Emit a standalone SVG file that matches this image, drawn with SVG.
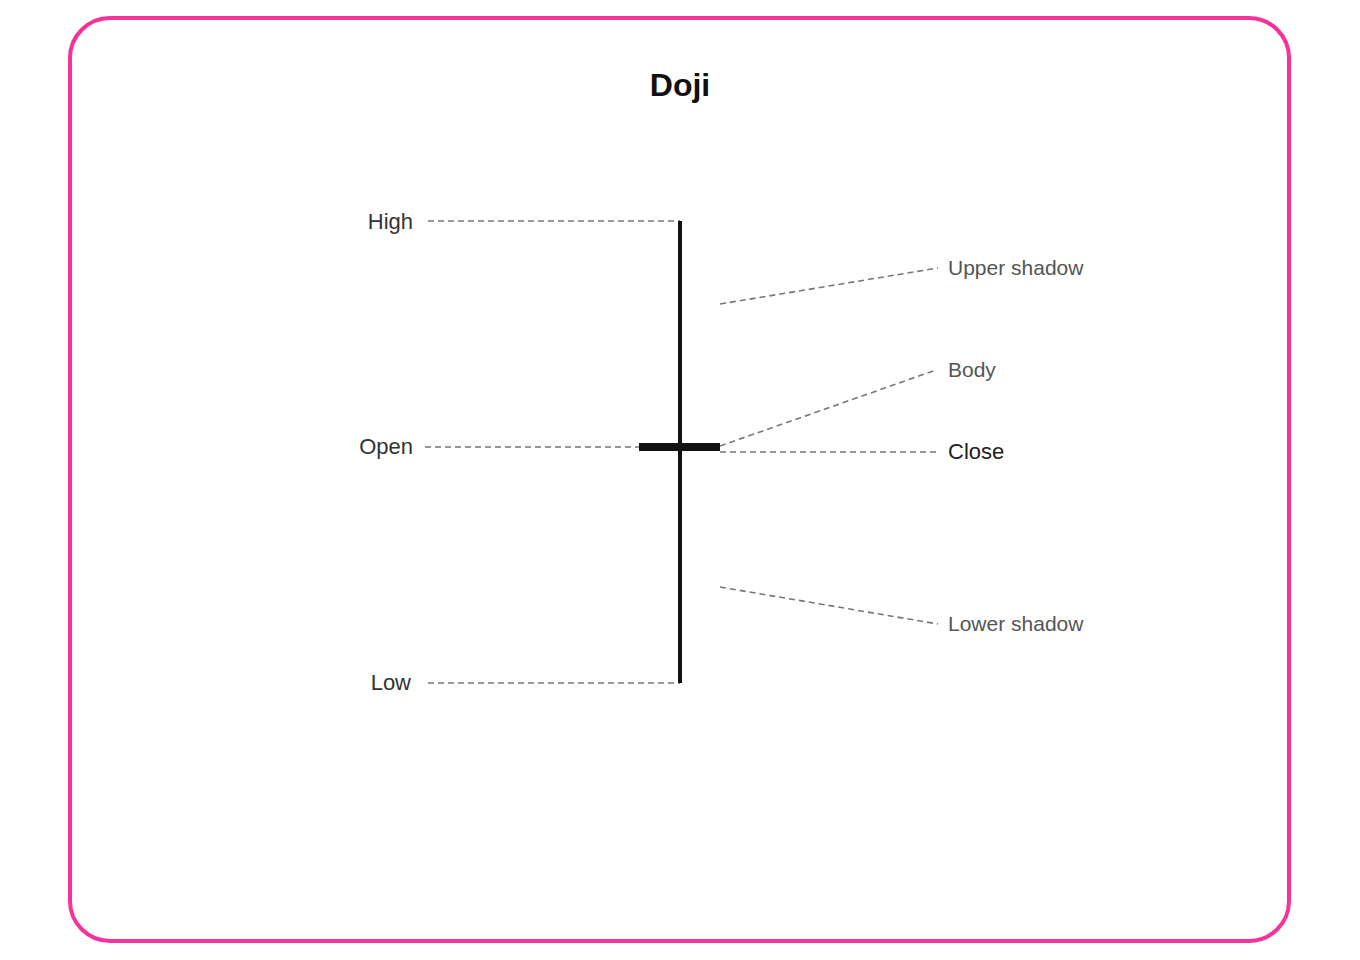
<svg xmlns="http://www.w3.org/2000/svg" width="1360" height="960" viewBox="0 0 1360 960">
<style>
.lbl{font-family:"Liberation Sans",Arial,sans-serif;font-size:22px;fill:#333}
.ann{font-family:"Liberation Sans",Arial,sans-serif;font-size:21px;fill:#555}
.d{stroke:#777;stroke-width:1.6;stroke-dasharray:6 4;fill:none}
</style>
<rect x="0" y="0" width="1360" height="960" fill="#fff"/>
<rect x="70" y="18" width="1219" height="923" rx="40" fill="#fff" stroke="#f5339a" stroke-width="4"/>
<text x="680" y="96" text-anchor="middle" font-family="Liberation Sans,Arial,sans-serif" font-size="32" font-weight="bold" fill="#111">Doji</text>
<g id="connectors">
<line class="d" x1="428" y1="221" x2="680" y2="221"/>
<line class="d" x1="425" y1="447" x2="640" y2="447"/>
<line class="d" x1="428" y1="683" x2="680" y2="683"/>
<line class="d" x1="720" y1="304" x2="938" y2="268"/>
<line class="d" x1="720" y1="446" x2="936" y2="370"/>
<line class="d" x1="720" y1="452" x2="936" y2="452"/>
<line class="d" x1="720" y1="587" x2="938" y2="624"/>
</g>
<g id="candle">
<line x1="680" y1="221" x2="680" y2="683" stroke="#111" stroke-width="4"/>
<rect x="639" y="443" width="81" height="8" fill="#111"/>
</g>
<g id="labels">
<text class="lbl" x="413" y="229" text-anchor="end">High</text>
<text class="lbl" x="413" y="454" text-anchor="end">Open</text>
<text class="lbl" x="411" y="690" text-anchor="end">Low</text>
<text class="ann" x="948" y="275">Upper shadow</text>
<text class="ann" x="948" y="377">Body</text>
<text class="lbl" x="948" y="459" style="fill:#222">Close</text>
<text class="ann" x="948" y="631">Lower shadow</text>
</g>
</svg>
